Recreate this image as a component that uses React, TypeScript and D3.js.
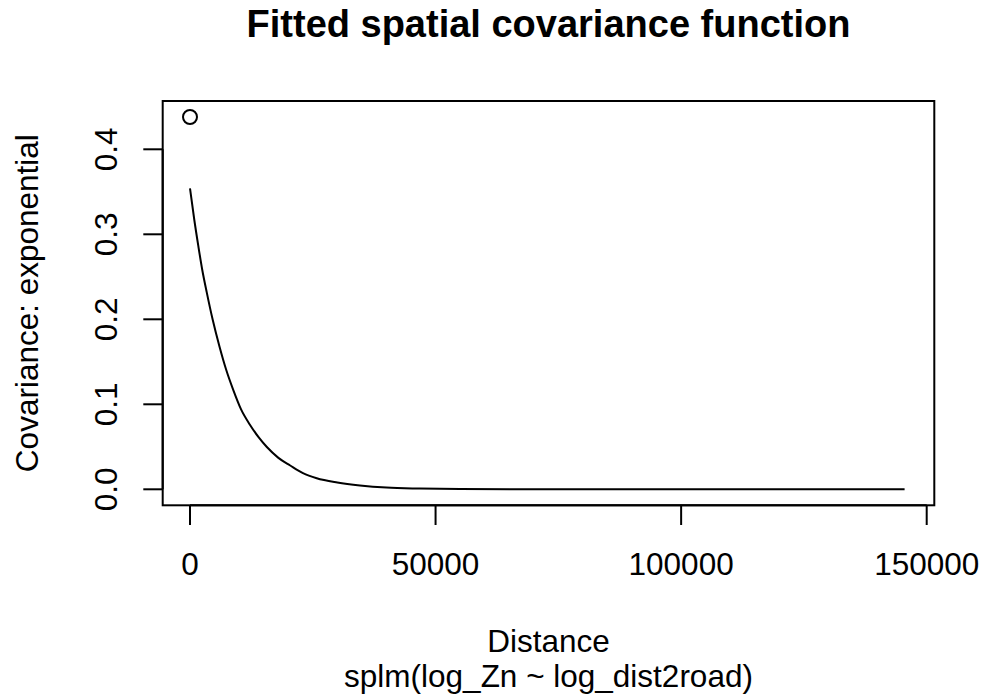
import React from "react";
import * as d3 from "d3";

// Fitted covariance curve
const curveDistance = [0, 850, 1700, 2500, 3400, 4600, 6000, 7400, 8800, 10400, 12200, 14000, 15600, 18000, 20400, 23000, 25800, 30000, 34600, 40000, 46800, 55000, 70000, 100000, 120000, 145500];
const curveCov = [0.354, 0.318, 0.286, 0.258, 0.232, 0.2, 0.168, 0.14, 0.117, 0.094, 0.076, 0.061, 0.05, 0.037, 0.028, 0.019, 0.013, 0.008, 0.0045, 0.002, 0.0009, 0.0003, 0, 0, 0, 0];

// Empirical covariance point
const pointDistance = [0];
const pointCov = [0.438];

const xTicks = [0, 50000, 100000, 150000];
const yTicks = [0, 0.1, 0.2, 0.3, 0.4];
const yTickLabels = ["0.0", "0.1", "0.2", "0.3", "0.4"];

const title = "Fitted spatial covariance function";
const xLabel = "Distance";
const subLabel = "splm(log_Zn ~ log_dist2road)";
const yLabel = "Covariance: exponential";

export default function App() {
  const W = 995, H = 698;
  const box = { left: 162.7, right: 934.3, top: 101, bottom: 505.3 };
  const x = d3.scaleLinear().domain([0, 150000]).range([190, 926.7]);
  const y = d3.scaleLinear().domain([0, 0.4]).range([489.3, 149.3]);
  const font = "'Liberation Sans', Arial, Helvetica, sans-serif";
  const fs = 31.5;

  const pts = curveDistance.map((d, i) => [d, curveCov[i]] as [number, number]);
  const line = d3
    .line<[number, number]>()
    .x((d) => x(d[0]))
    .y((d) => y(d[1]))
    .curve(d3.curveMonotoneX);

  const cx = (box.left + box.right) / 2;
  const cy = (box.top + box.bottom) / 2;

  return (
    <svg
      width={W}
      height={H}
      style={{ position: "absolute", left: 0, top: 0, background: "#fff" }}
      fontFamily={font}
    >
      <rect x={0} y={0} width={W} height={H} fill="#fff" />
      <text x={cx} y={37} textAnchor="middle" fontSize={38} fontWeight="bold" fill="#000">
        {title}
      </text>
      <rect
        x={box.left}
        y={box.top}
        width={box.right - box.left}
        height={box.bottom - box.top}
        fill="none"
        stroke="#000"
        strokeWidth={2}
      />
      {/* x axis */}
      <line x1={x(xTicks[0])} x2={x(xTicks[xTicks.length - 1])} y1={box.bottom} y2={box.bottom} stroke="#000" strokeWidth={2} />
      {xTicks.map((t) => (
        <g key={t}>
          <line x1={x(t)} x2={x(t)} y1={box.bottom} y2={525} stroke="#000" strokeWidth={2} />
          <text x={x(t)} y={575} textAnchor="middle" fontSize={fs} fill="#000">
            {t}
          </text>
        </g>
      ))}
      {/* y axis */}
      <line x1={box.left} x2={box.left} y1={y(yTicks[0])} y2={y(yTicks[yTicks.length - 1])} stroke="#000" strokeWidth={2} />
      {yTicks.map((t, i) => (
        <g key={t}>
          <line x1={143.3} x2={box.left} y1={y(t)} y2={y(t)} stroke="#000" strokeWidth={2} />
          <text
            transform={`translate(116.5,${y(t)}) rotate(-90)`}
            textAnchor="middle"
            fontSize={fs}
            fill="#000"
          >
            {yTickLabels[i]}
          </text>
        </g>
      ))}
      <text x={cx} y={651.5} textAnchor="middle" fontSize={fs} fill="#000">
        {xLabel}
      </text>
      <text x={cx} y={687} textAnchor="middle" fontSize={fs} fill="#000">
        {subLabel}
      </text>
      <text transform={`translate(38.3,${cy}) rotate(-90)`} textAnchor="middle" fontSize={fs} fill="#000">
        {yLabel}
      </text>
      <path d={line(pts) || ""} fill="none" stroke="#000" strokeWidth={2} />
      {pointDistance.map((d, i) => (
        <circle key={i} cx={x(d)} cy={y(pointCov[i])} r={7} fill="none" stroke="#000" strokeWidth={2} />
      ))}
    </svg>
  );
}
